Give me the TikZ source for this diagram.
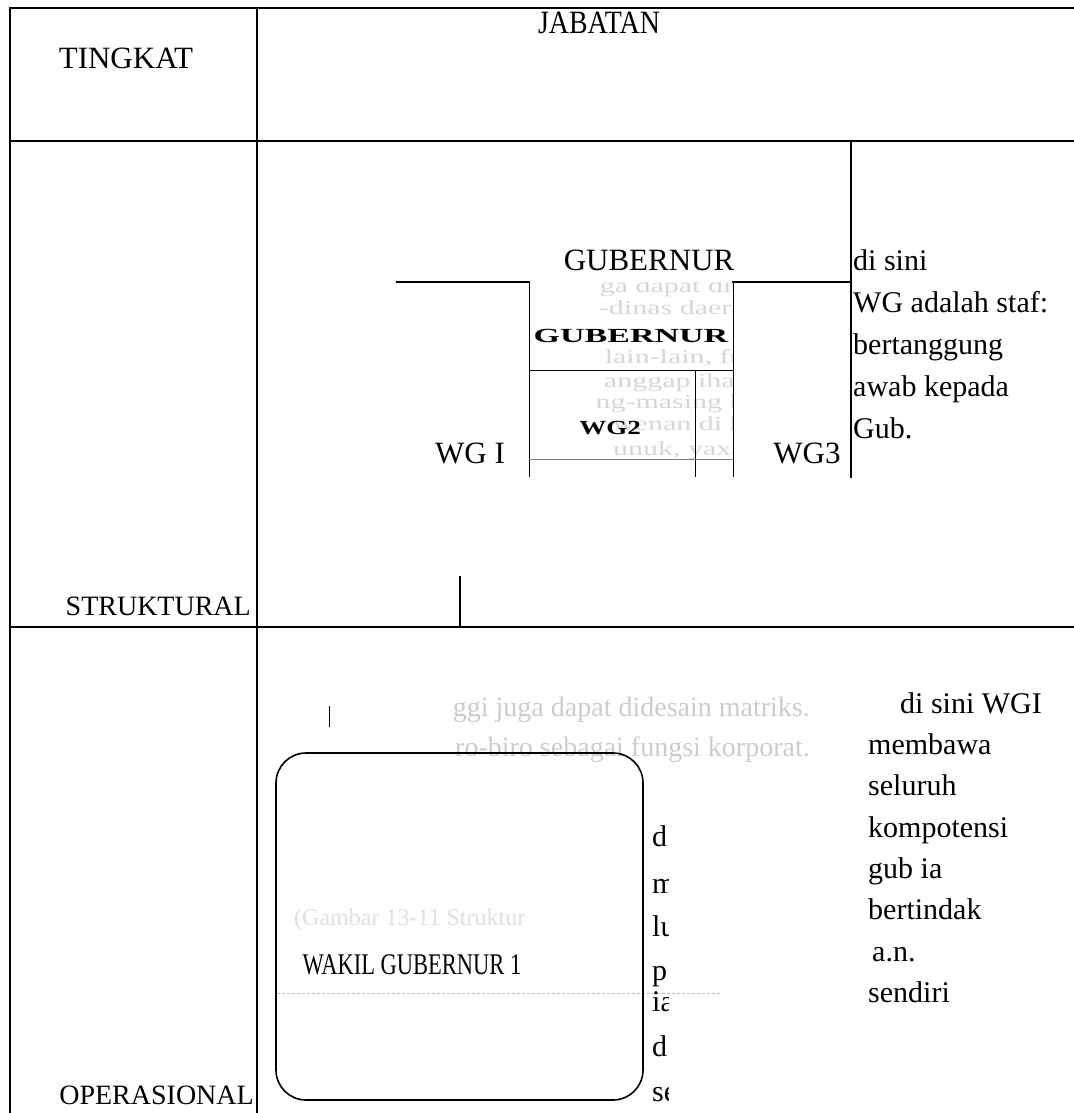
\documentclass[tikz,border=0pt]{standalone}
\usepackage{fontspec}
\setmainfont{Liberation Serif}
\begin{document}
\begin{tikzpicture}[x=1pt,y=-1pt,
  rule/.style={line width=1.5pt, line cap=rect},
  thin/.style={line width=1pt},
  big/.style={font=\fontsize{31}{36}\selectfont, inner sep=0pt},
  side/.style={font=\fontsize{28}{32}\selectfont, inner sep=0pt, anchor=base east},
  note/.style={font=\fontsize{30}{36}\selectfont, inner sep=0pt, anchor=base west},
  ghost/.style={font=\fontsize{28}{34}\selectfont, text=black!20, inner sep=0pt},
  faint/.style={font=\fontsize{20}{24}\selectfont, text=black!16, inner sep=0pt, anchor=base east, xscale=1.5},
  boldsmall/.style={font=\bfseries\fontsize{20}{24}\selectfont, inner sep=0pt},
  scanbox/.style={draw, line width=1.6pt, rounded corners=30pt}]
\useasboundingbox (0,0) rectangle (1073,1113);

% table frame
\coordinate (tl) at (10,8);
\coordinate (tr) at (1073,8);
\coordinate (bl) at (10,1113);
\draw[rule] (tl) -- (tr);
\draw[rule] (tl) -- (bl);
\draw[rule] (257,8) -- (257,1113);
\draw[rule] (10,141) -- (1073,141);
\draw[rule] (10,627) -- (1073,627);
\draw[rule] (851,141) -- (851,477);
\draw[rule] (460,577) -- (460,627);

% header
\node[big] (tingkat) at (126,58) {TINGKAT};
\node[big, xscale=0.9, yscale=1.05] (jabatan) at (599,23) {JABATAN};

% structural row
\node[big, anchor=base] (gub) at (649,270) {GUBERNUR};
\draw[rule] (397,282) -- (529,282);
\draw[rule] (733,282) -- (851,282);

% scanned organisation box
\begin{scope}
  \clip (529,282) rectangle (733,477);
  \node[faint] (g1) at (745,292) {ga dapat dia};
  \node[faint] (g2) at (745,314) {-dinas daera};
  \node[faint] (g3) at (745,363) {lain-lain, fu};
  \node[faint] (g4) at (745,387) {anggap ihar};
  \node[faint] (g5) at (745,408) {ng-masing h};
  \node[faint] (g6) at (745,430) {wenan di h};
  \node[faint] (g7) at (745,455) {unuk, yaxa};
\end{scope}
\draw[thin] (529,282) -- (529,477);
\draw[thin] (733,282) -- (733,477);
\draw[thin] (529,370) -- (733,370);
\draw[thin] (695,370) -- (695,477);
\draw[thin, black!50] (529,459) -- (733,459);
\node[boldsmall, xscale=1.7, anchor=base] (gubbox) at (631,342) {GUBERNUR};
\node[boldsmall, xscale=1.35, anchor=base] (wg2) at (610,434) {WG2};

\node[big, anchor=base] (wg1) at (470,463) {WG I};
\node[big, anchor=base] (wg3) at (807,463) {WG3};

\node[note] (s1) at (853,270) {di sini};
\node[note] (s2) at (853,312) {WG adalah staf:};
\node[note] (s3) at (853,354) {bertanggung};
\node[note] (s4) at (853,396) {awab kepada};
\node[note] (s5) at (853,438) {Gub.};

\node[side] (struk) at (251,615) {STRUKTURAL};

% operational row
\node[side] (oper) at (254,1104) {OPERASIONAL};

\draw[thin] (329,706) -- (329,727);
\node[ghost, anchor=base east] (gh1) at (810,716) {ggi juga dapat didesain matriks.};
\node[ghost, anchor=base east] (gh2) at (810,756) {ro-biro sebagai fungsi korporat.};
\node[font=\fontsize{24}{28}\selectfont, text=black!12, inner sep=0pt, anchor=base west] (gh3) at (294,925) {(Gambar 13-11 Struktur};
\draw[black!25, densely dashed] (277,993) -- (720,993);

\node[scanbox, minimum width=367, minimum height=347] (wakil) at (459.5,926.5) {};
\node[font=\fontsize{30}{36}\selectfont, xscale=0.75, inner sep=0pt] (wakiltxt) at (412,965) {WAKIL GUBERNUR 1};

\begin{scope}
  \clip (648,780) rectangle (668,1113);
  \node[note] (c1) at (652,846) {d};
  \node[note] (c2) at (652,893) {m};
  \node[note] (c3) at (652,936) {lu};
  \node[note] (c4) at (652,980) {p};
  \node[note] (c5) at (652,1011) {ia};
  \node[note] (c6) at (652,1056) {d};
  \node[note] (c7) at (652,1101) {se};
\end{scope}

\node[note] (o1) at (900,713) {di sini WGI};
\node[note] (o2) at (868,754) {membawa};
\node[note] (o3) at (868,795) {seluruh};
\node[note] (o4) at (868,837) {kompotensi};
\node[note] (o5) at (868,878) {gub ia};
\node[note] (o6) at (868,919) {bertindak};
\node[note] (o7) at (872,961) {a.n.};
\node[note] (o8) at (868,1002) {sendiri};
\end{tikzpicture}
\end{document}
